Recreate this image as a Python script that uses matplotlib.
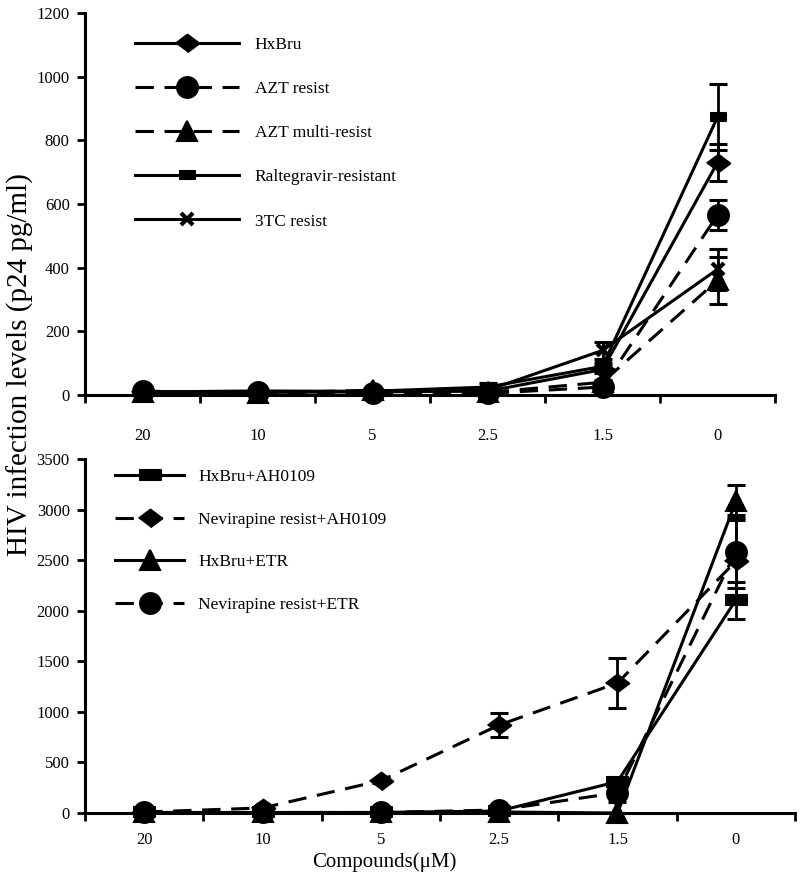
import numpy as np
import matplotlib
matplotlib.use("Agg")
import matplotlib.pyplot as plt

plt.rcParams['font.family'] = ['Liberation Serif', 'DejaVu Serif']

doses = ['20', '10', '5', '2.5', '1.5', '0']

# top panel (p24 pg/ml)
hxbru = [8, 8, 10, 12, 80, 730]
hxbru_err = [3, 3, 3, 4, 10, 58]
azt = [12, 8, 6, 5, 25, 565]
azt_err = [3, 3, 3, 3, 8, 48]
azt_multi = [8, 6, 15, 8, 40, 360]
azt_multi_err = [3, 3, 3, 3, 8, 73]
ralte = [10, 12, 12, 25, 90, 873]
ralte_err = [3, 3, 3, 12, 10, 104]
tc3 = [10, 12, 10, 15, 140, 395]
tc3_err = [3, 3, 3, 4, 28, 65]

# bottom panel
hx_ah = [5, 5, 5, 20, 310, 2105]
hx_ah_err = [3, 3, 3, 5, 40, 183]
nev_ah = [10, 50, 320, 870, 1285, 2490]
nev_ah_err = [5, 10, 20, 120, 245, 410]
hx_etr = [5, 5, 5, 10, 0, 3080]
hx_etr_err = [3, 3, 3, 3, 3, 165]
nev_etr = [5, 5, 5, 30, 200, 2585]
nev_etr_err = [3, 3, 3, 5, 90, 360]

diamond = [(-1, 0), (0, 0.75), (1, 0), (0, -0.75)]
rect = [(-1, -0.45), (1, -0.45), (1, 0.45), (-1, 0.45)]

LW = 2.2
x = np.arange(len(doses))


def series(ax, y, err, marker, ms, dashed, label):
    ax.errorbar(x, y, yerr=err, fmt='none', ecolor='black', elinewidth=2,
                capsize=6.5, capthick=2.2, zorder=2, clip_on=False)
    ls = '--' if dashed else '-'
    ln, = ax.plot(x, y, ls=ls, color='black', lw=LW, marker=marker, ms=ms,
                  mfc='black', mec='black', mew=1.5 if marker != 'x' else 3,
                  label=label, zorder=3, clip_on=False)
    if dashed:
        ln.set_dashes((6, 3.5))
    return ln


def style(ax, ymax, ystep, pad):
    for s in ['top', 'right']:
        ax.spines[s].set_visible(False)
    for s in ['left', 'bottom']:
        ax.spines[s].set_linewidth(LW)
    ax.set_xlim(-0.5, len(doses) - 0.5)
    ax.set_ylim(0, ymax)
    ax.set_yticks(np.arange(0, ymax + 1, ystep))
    ax.set_xticks(x)
    ax.set_xticklabels(doses)
    ax.set_xticks(np.arange(-0.5, len(doses)), minor=True)
    ax.tick_params(axis='x', which='major', length=0, pad=pad, labelsize=12)
    ax.tick_params(axis='x', which='minor', length=6, width=2, direction='out')
    ax.tick_params(axis='y', length=6, width=2, direction='out', pad=5, labelsize=12)


fig = plt.figure(figsize=(8, 8.83), dpi=100)
W, H = 800, 883

ax1 = fig.add_axes([85 / W, (H - 395) / H, 690 / W, 382 / H])
h = []
h.append(series(ax1, hxbru, hxbru_err, diamond, 17, False, 'HxBru'))
h.append(series(ax1, azt, azt_err, 'o', 15, True, 'AZT resist'))
h.append(series(ax1, azt_multi, azt_multi_err, '^', 15, True, 'AZT multi-resist'))
h.append(series(ax1, ralte, ralte_err, rect, 12, False, 'Raltegravir-resistant'))
h.append(series(ax1, tc3, tc3_err, 'x', 8, False, '3TC resist'))
style(ax1, 1200, 200, 24)
fig.legend(handles=h, loc='upper left', bbox_to_anchor=(135 / W, 1 - 37 / H),
           frameon=False, fontsize=12.5, handlelength=6.0, handletextpad=0.9,
           labelspacing=1.61, borderpad=0, borderaxespad=0, numpoints=1)

ax2 = fig.add_axes([85 / W, (H - 813) / H, 710 / W, 354 / H])
h = []
h.append(series(ax2, hx_ah, hx_ah_err, rect, 16, False, 'HxBru+AH0109'))
h.append(series(ax2, nev_ah, nev_ah_err, diamond, 17, True, 'Nevirapine resist+AH0109'))
h.append(series(ax2, hx_etr, hx_etr_err, '^', 15, False, 'HxBru+ETR'))
h.append(series(ax2, nev_etr, nev_etr_err, 'o', 15, True, 'Nevirapine resist+ETR'))
style(ax2, 3500, 500, 14)
fig.legend(handles=h, loc='upper left', bbox_to_anchor=(115 / W, 1 - 469 / H),
           frameon=False, fontsize=12.5, handlelength=4.0, handletextpad=0.8,
           labelspacing=1.52, borderpad=0, borderaxespad=0, numpoints=1)

fig.text(20 / W, 1 - 365 / H, 'HIV infection levels (p24 pg/ml)', rotation=90,
         ha='center', va='center', fontsize=21)
fig.text(384 / W, 1 - 862 / H, 'Compounds(\u03bcM)', ha='center', va='center',
         fontsize=15)

fig.savefig('out.png', dpi=100)
